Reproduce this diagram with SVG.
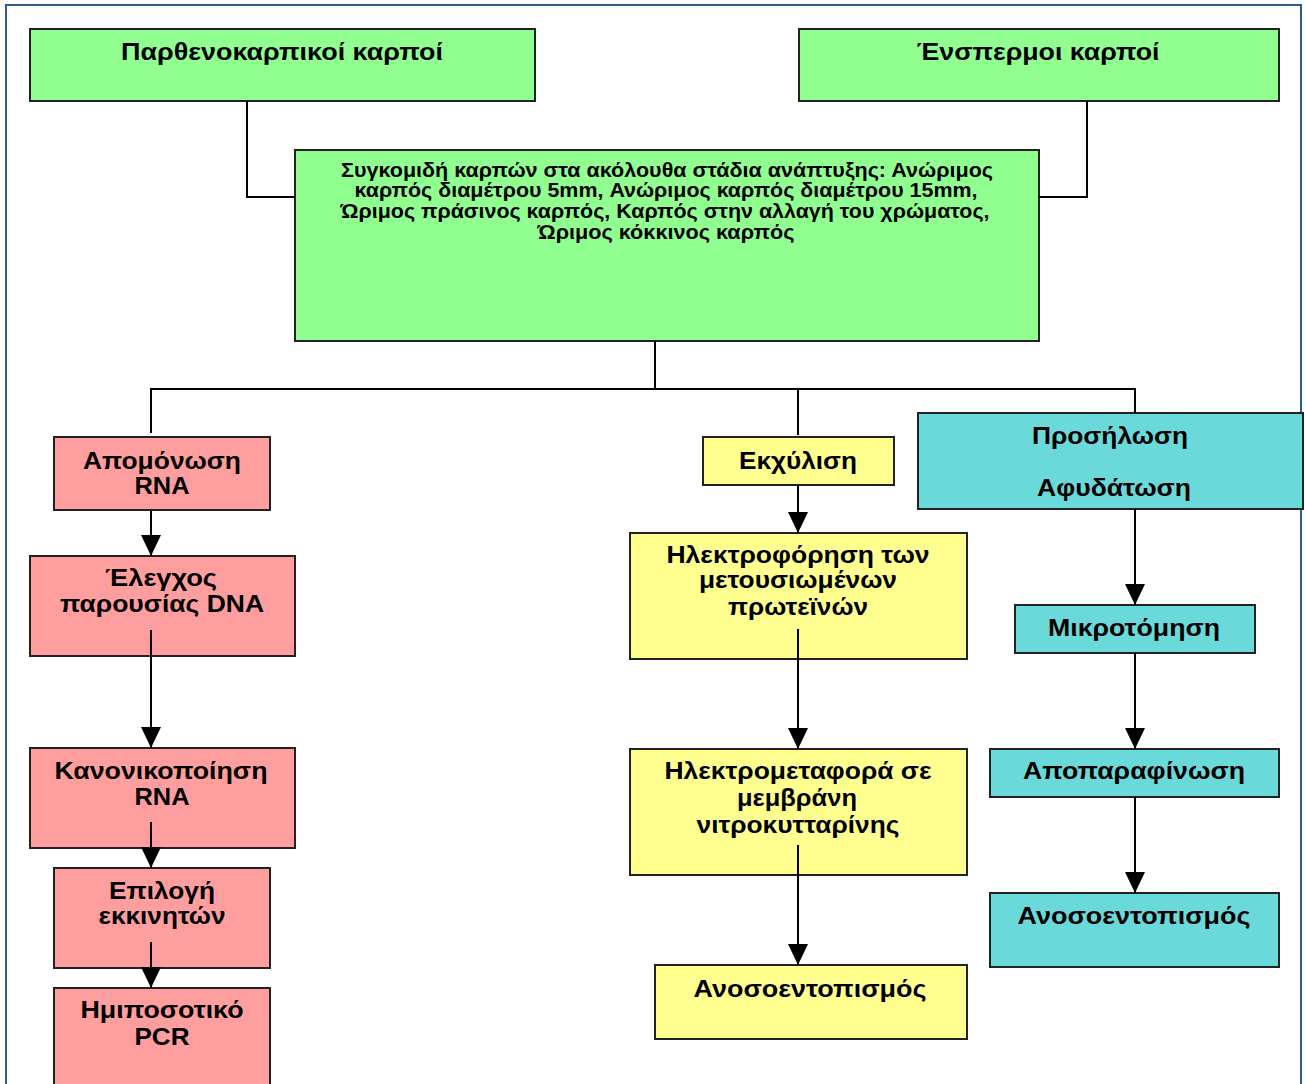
<svg xmlns="http://www.w3.org/2000/svg" width="1305" height="1084" viewBox="0 0 1305 1084">
<defs>
<marker id="arr" markerWidth="22" markerHeight="20" refX="21" refY="10" orient="auto" markerUnits="userSpaceOnUse">
<path d="M0,0 L21,10 L0,20 Z" fill="#000"/>
</marker>
<style>
.box{stroke:#222;stroke-width:2}
.g{fill:#90ff90}
.p{fill:#ff9e9e}
.y{fill:#ffff90}
.c{fill:#6ad9d9}
text{font-family:"Liberation Sans",Arial,sans-serif;font-weight:bold;fill:#000;text-anchor:middle}
.t{font-size:23px}
.s{font-size:19.5px}
.ln{stroke:#000;stroke-width:2;fill:none}
</style>
</defs>
<rect x="0" y="0" width="1305" height="1084" fill="#fff"/>
<rect x="6" y="5" width="1295" height="1100" fill="none" stroke="#2d5b8e" stroke-width="2"/>

<g id="n-parthenokarpikoi">
<rect class="box g" x="30" y="29" width="505" height="72"/>
<text class="t" x="282" y="60" textLength="322" lengthAdjust="spacingAndGlyphs">Παρθενοκαρπικοί καρποί</text>
</g>
<g id="n-enspermoi">
<rect class="box g" x="799" y="29" width="480" height="72"/>
<text class="t" x="1038" y="60" textLength="243" lengthAdjust="spacingAndGlyphs">Ένσπερμοι καρποί</text>
</g>
<g id="n-syllogi">
<rect class="box g" x="295" y="150" width="744" height="191"/>
<text class="s" x="667" y="177" textLength="652" lengthAdjust="spacingAndGlyphs">Συγκομιδή καρπών στα ακόλουθα στάδια ανάπτυξης: Ανώριμος</text>
<text class="s" x="666" y="197" textLength="623" lengthAdjust="spacingAndGlyphs">καρπός διαμέτρου 5mm, Ανώριμος καρπός διαμέτρου 15mm,</text>
<text class="s" x="665" y="218" textLength="649" lengthAdjust="spacingAndGlyphs">Ώριμος πράσινος καρπός, Καρπός στην αλλαγή του χρώματος,</text>
<text class="s" x="666" y="239" textLength="257" lengthAdjust="spacingAndGlyphs">Ώριμος κόκκινος καρπός</text>
</g>

<g id="n-apomonosi">
<rect class="box p" x="54" y="437" width="216" height="73"/>
<text class="t" x="162" y="469" textLength="158" lengthAdjust="spacingAndGlyphs">Απομόνωση</text>
<text class="t" x="162" y="494" textLength="55" lengthAdjust="spacingAndGlyphs">RNA</text>
</g>
<g id="n-elegxos">
<rect class="box p" x="30" y="556" width="265" height="100"/>
<text class="t" x="161" y="586" textLength="112" lengthAdjust="spacingAndGlyphs">Έλεγχος</text>
<text class="t" x="162" y="612" textLength="204" lengthAdjust="spacingAndGlyphs">παρουσίας DNA</text>
</g>
<g id="n-kanonikopoiisi">
<rect class="box p" x="30" y="748" width="265" height="100"/>
<text class="t" x="161" y="779" textLength="213" lengthAdjust="spacingAndGlyphs">Κανονικοποίηση</text>
<text class="t" x="162" y="805" textLength="55" lengthAdjust="spacingAndGlyphs">RNA</text>
</g>
<g id="n-epilogi">
<rect class="box p" x="54" y="868" width="216" height="100"/>
<text class="t" x="162" y="899" textLength="106" lengthAdjust="spacingAndGlyphs">Επιλογή</text>
<text class="t" x="162" y="924" textLength="127" lengthAdjust="spacingAndGlyphs">εκκινητών</text>
</g>
<g id="n-pcr">
<rect class="box p" x="54" y="988" width="216" height="110"/>
<text class="t" x="162" y="1018" textLength="163" lengthAdjust="spacingAndGlyphs">Ημιποσοτικό</text>
<text class="t" x="162" y="1045" textLength="55" lengthAdjust="spacingAndGlyphs">PCR</text>
</g>

<g id="n-ekxylisi">
<rect class="box y" x="703" y="437" width="191" height="48"/>
<text class="t" x="798" y="469" textLength="118" lengthAdjust="spacingAndGlyphs">Εκχύλιση</text>
</g>
<g id="n-ilektroforisi">
<rect class="box y" x="630" y="533" width="337" height="126"/>
<text class="t" x="798" y="563" textLength="263" lengthAdjust="spacingAndGlyphs">Ηλεκτροφόρηση των</text>
<text class="t" x="798" y="588" textLength="198" lengthAdjust="spacingAndGlyphs">μετουσιωμένων</text>
<text class="t" x="798" y="615" textLength="140" lengthAdjust="spacingAndGlyphs">πρωτεϊνών</text>
</g>
<g id="n-ilektrometafora">
<rect class="box y" x="630" y="749" width="337" height="126"/>
<text class="t" x="798" y="779" textLength="267" lengthAdjust="spacingAndGlyphs">Ηλεκτρομεταφορά σε</text>
<text class="t" x="797" y="806" textLength="120" lengthAdjust="spacingAndGlyphs">μεμβράνη</text>
<text class="t" x="798" y="833" textLength="203" lengthAdjust="spacingAndGlyphs">νιτροκυτταρίνης</text>
</g>
<g id="n-anoso-y">
<rect class="box y" x="655" y="965" width="312" height="74"/>
<text class="t" x="810" y="997" textLength="233" lengthAdjust="spacingAndGlyphs">Ανοσοεντοπισμός</text>
</g>

<g id="n-prosilosi">
<rect class="box c" x="918" y="413" width="385" height="96"/>
<text class="t" x="1110" y="444" textLength="156" lengthAdjust="spacingAndGlyphs">Προσήλωση</text>
<text class="t" x="1114" y="496" textLength="154" lengthAdjust="spacingAndGlyphs">Αφυδάτωση</text>
</g>
<g id="n-mikrotomisi">
<rect class="box c" x="1015" y="605" width="240" height="48"/>
<text class="t" x="1134" y="636" textLength="172" lengthAdjust="spacingAndGlyphs">Μικροτόμηση</text>
</g>
<g id="n-apoparafinosi">
<rect class="box c" x="990" y="749" width="289" height="48"/>
<text class="t" x="1134" y="779" textLength="222" lengthAdjust="spacingAndGlyphs">Αποπαραφίνωση</text>
</g>
<g id="n-anoso-c">
<rect class="box c" x="990" y="893" width="289" height="74"/>
<text class="t" x="1134" y="924" textLength="233" lengthAdjust="spacingAndGlyphs">Ανοσοεντοπισμός</text>
</g>

<g id="connectors">
<polyline class="ln" points="247,101 247,197 295,197"/>
<polyline class="ln" points="1087,101 1087,197 1039,197"/>
<line class="ln" x1="655" y1="341" x2="655" y2="389"/>
<line class="ln" x1="150" y1="389" x2="1136" y2="389"/>
<line class="ln" x1="151" y1="389" x2="151" y2="433"/>
<line class="ln" x1="798" y1="389" x2="798" y2="435"/>
<line class="ln" x1="1135" y1="389" x2="1135" y2="413"/>
<line class="ln" x1="151" y1="510" x2="151" y2="556" marker-end="url(#arr)"/>
<line class="ln" x1="151" y1="630" x2="151" y2="748" marker-end="url(#arr)"/>
<line class="ln" x1="151" y1="822" x2="151" y2="868" marker-end="url(#arr)"/>
<line class="ln" x1="151" y1="942" x2="151" y2="988" marker-end="url(#arr)"/>
<line class="ln" x1="798" y1="485" x2="798" y2="533" marker-end="url(#arr)"/>
<line class="ln" x1="798" y1="629" x2="798" y2="749" marker-end="url(#arr)"/>
<line class="ln" x1="798" y1="845" x2="798" y2="965" marker-end="url(#arr)"/>
<line class="ln" x1="1135" y1="509" x2="1135" y2="605" marker-end="url(#arr)"/>
<line class="ln" x1="1135" y1="653" x2="1135" y2="749" marker-end="url(#arr)"/>
<line class="ln" x1="1135" y1="797" x2="1135" y2="893" marker-end="url(#arr)"/>
</g>
</svg>
